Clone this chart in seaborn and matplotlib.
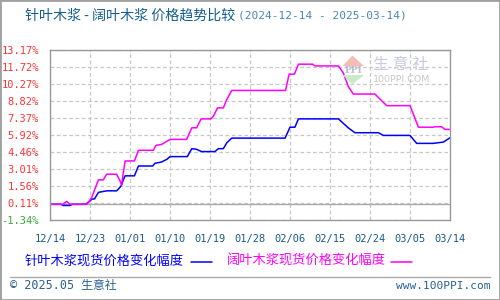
import matplotlib
matplotlib.use("Agg")
import matplotlib.pyplot as plt
from matplotlib.lines import Line2D
from matplotlib.patches import Polygon, Rectangle
import numpy as np
import pandas as pd
import seaborn as sns

# ---------------- data ----------------
start_date = "2024-12-14"
end_date = "2025-03-14"
series_names = ["针叶木浆现货价格变化幅度", "阔叶木浆现货价格变化幅度"]

softwood_days = [0, 2.5, 3, 4.5, 5, 8, 9, 9.4, 10, 10.9, 12.8, 15, 15.8, 16.1, 16.4, 16.9,
                 19, 19.9, 23.1, 23.6, 25.1, 26.3, 27, 30.9, 31.9, 33, 34.1, 37.1, 37.9,
                 39, 39.8, 40.9, 52.9, 54, 55.1, 55.9, 64.9, 67.1, 68.6, 73.9, 75, 81,
                 82.5, 86.2, 88.5, 90]
softwood_vals = [0, 0, -0.1, -0.1, 0, 0, 0.28, 0.45, 0.45, 1.02, 1.15, 1.15, 1.47, 1.64, 2.0, 2.43,
                 2.43, 3.27, 3.27, 3.5, 3.61, 3.84, 4.07, 4.07, 4.75, 4.69, 4.5, 4.5, 4.75,
                 4.75, 5.26, 5.65, 5.65, 6.58, 6.58, 7.29, 7.29, 6.53, 6.11, 6.11, 5.88, 5.88,
                 5.2, 5.2, 5.31, 5.68]

hardwood_days = [0, 2.9, 3.75, 4.5, 8.25, 9, 9.4, 10.1, 10.9, 12, 12.75, 15, 15.75, 16.1, 16.5,
                 16.9, 19, 19.9, 23.25, 23.85, 25.1, 26.6, 27.2, 30.75, 31.9, 33, 34, 36.2,
                 36.75, 37.7, 39, 39.75, 40.9, 53, 53.8, 55, 55.9, 59.1, 59.6, 64.9, 66,
                 67.1, 68.25, 73.1, 74.6, 75.75, 81, 82.9, 86.2, 86.6, 88.1, 88.9, 90]
hardwood_vals = [0, 0, 0.25, 0, 0, 0.36, 0.59, 1.3, 2.09, 2.09, 2.57, 2.57, 2.0, 1.64, 2.71,
                 3.7, 3.7, 4.61, 4.61, 5.03, 5.11, 5.45, 5.54, 5.54, 6.53, 6.53, 7.29, 7.29,
                 7.51, 8.23, 8.23, 8.93, 9.72, 9.72, 11.11, 11.11, 11.96, 11.96, 11.81, 11.81, 11.21,
                 10.06, 9.41, 9.41, 8.85, 8.42, 8.42, 6.58, 6.58, 6.62, 6.62, 6.39, 6.39]

y_ticks = [-1.34, 0.11, 1.56, 3.01, 4.46, 5.92, 7.37, 8.82, 10.27, 11.72, 13.17]
x_tick_labels = ["12/14", "12/23", "01/01", "01/10", "01/19", "01/28", "02/06",
                 "02/15", "02/24", "03/05", "03/14"]

# ---------------- figure ----------------
sns.set_style("white")
CJK = ["Noto Sans CJK SC", "DejaVu Sans"]
MONO = ["DejaVu Sans Mono", "Noto Sans CJK SC"]
plt.rcParams["font.family"] = CJK

W, H = 500, 300
fig = plt.figure(figsize=(5, 3), dpi=100)

def fx(px):
    return px / W

def fy(py):
    return 1 - py / H

ax = fig.add_axes([fx(50), fy(220), fx(450) - fx(50), fy(50) - fy(220)])

t0 = pd.Timestamp(start_date)
rows = []
for name, days, vals in [(series_names[0], softwood_days, softwood_vals),
                         (series_names[1], hardwood_days, hardwood_vals)]:
    for d, v in zip(days, vals):
        rows.append({"date": t0 + pd.to_timedelta(d, unit="D"), "value": v, "series": name})
df = pd.DataFrame(rows)

palette = {series_names[0]: "#0000ff", series_names[1]: "#ff00ff"}
sns.lineplot(data=df, x="date", y="value", hue="series", palette=palette,
             linewidth=1.1, legend=False, ax=ax, estimator=None, sort=False)

ax.set_xlim(pd.Timestamp(start_date), pd.Timestamp(end_date))
ax.set_ylim(y_ticks[0], y_ticks[-1])
xt = pd.date_range(start_date, periods=len(x_tick_labels), freq="9D")
ax.set_xticks(xt)
ax.set_xticklabels(x_tick_labels, fontfamily=MONO, fontsize=7.5, color="#1a5a8a")
ax.set_yticks(y_ticks)
ax.set_yticklabels([f"{v:.2f}%" for v in y_ticks], fontfamily=MONO, fontsize=7.5)
for lab, v in zip(ax.get_yticklabels(), y_ticks):
    lab.set_color("#33aa33" if v < 0 else "#ff3333")
ax.tick_params(axis="both", length=0)
ax.tick_params(axis="y", pad=8)
ax.tick_params(axis="x", pad=10)
ax.set_xlabel("")
ax.set_ylabel("")
ax.grid(True, linestyle=(0, (3, 2)), color="#c8c8c8", linewidth=0.9)
ax.axhline(0, color="#aaaaaa", linewidth=1.0, zorder=1)
for s in ax.spines.values():
    s.set_color("#999999")
    s.set_linewidth(1.0)

# ---------------- texts ----------------
fig.text(fx(25), fy(16), "针叶木浆 - 阔叶木浆 价格趋势比较", fontsize=10.1,
         color="#135d8c", va="center", ha="left", family=CJK)
fig.text(fx(238), fy(16), "(2024-12-14 - 2025-03-14)", fontsize=8,
         color="#4a86b0", va="center", ha="left", family=MONO)

# legend
fig.text(fx(25), fy(261), series_names[0], fontsize=9.5, color="#0000ff",
         va="center", ha="left", family=CJK)
fig.add_artist(Line2D([fx(191), fx(212)], [fy(262), fy(262)], color="#0000ff",
                      linewidth=1.1, transform=fig.transFigure))
fig.text(fx(227), fy(261), series_names[1], fontsize=9.5, color="#ff00ff",
         va="center", ha="left", family=CJK)
fig.add_artist(Line2D([fx(391), fx(412)], [fy(262), fy(262)], color="#ff00ff",
                      linewidth=1.1, transform=fig.transFigure))

# separator and footer
fig.add_artist(Line2D([fx(10), fx(490)], [fy(277), fy(277)], color="#aaaaaa",
                      linewidth=1.0, transform=fig.transFigure))
fig.text(fx(10), fy(286), "© 2025.05 生意社", fontsize=8.5, color="#2a6090",
         va="center", ha="left", family=MONO)
fig.text(fx(490), fy(286), "www.100PPI.com", fontsize=8, color="#2a6090",
         va="center", ha="right", family=MONO)

# watermark
fig.add_artist(Polygon([[fx(342.7), fy(66)], [fx(364), fy(66)], [fx(352.3), fy(55.5)]],
                       closed=True, facecolor="#f4bcb4", edgecolor="none",
                       transform=fig.transFigure, zorder=0.5))
fig.add_artist(Polygon([[fx(342.7), fy(75)], [fx(364), fy(75)], [fx(352.3), fy(84.5)]],
                       closed=True, facecolor="#c8ecc8", edgecolor="none",
                       transform=fig.transFigure, zorder=0.5))
fig.text(fx(353), fy(70.5), "PPI", fontsize=6.5, color="#b8bcd4", va="center",
         ha="center", family=["DejaVu Serif"], fontweight="bold", zorder=0.6)
fig.text(fx(401), fy(65), "生 意 社", fontsize=11.5, color="#c8cce0", va="center",
         ha="center", family=CJK, zorder=0.6)
fig.text(fx(402), fy(79.5), "100PPI.COM", fontsize=6.8, color="#c8c8c8", va="center",
         ha="center", family=["DejaVu Sans"], zorder=0.6)

# outer border
fig.add_artist(Rectangle((0, 0), 1, 1, transform=fig.transFigure, fill=False,
                         edgecolor="#a0a0a0", linewidth=2.0))

fig.savefig("out.png", dpi=100)
